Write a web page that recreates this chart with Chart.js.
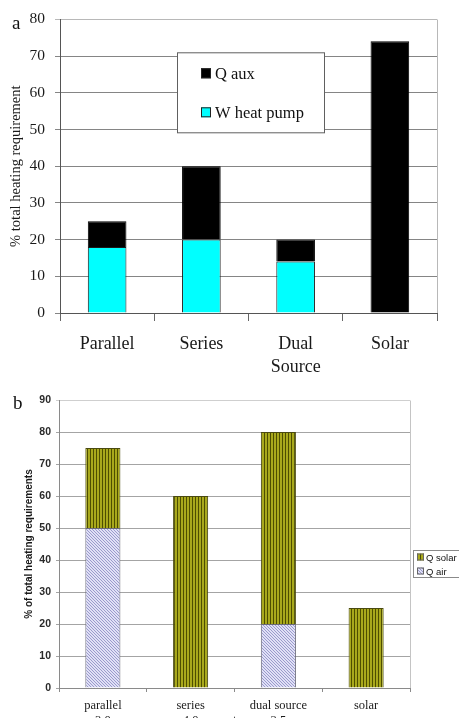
<!DOCTYPE html>
<html>
<head>
<meta charset="utf-8">
<script src="https://cdn.jsdelivr.net/npm/chart.js@4/dist/chart.umd.min.js"></script>
<style>
  html, body { margin: 0; padding: 0; background: #fff; overflow: hidden; width: 459px; height: 718px; }
  #panelA { position: absolute; left: 0; top: 0; width: 459px; height: 380px; }
  #panelB { position: absolute; left: 0; top: 380px; width: 459px; height: 360px; }
</style>
</head>
<body>
<div id="panelA"><canvas id="chartA"></canvas></div>
<div id="panelB"><canvas id="chartB"></canvas></div>
<script>
// Panel a: share of total heating requirement per system layout
const categoriesA = ['Parallel', 'Series', ['Dual', 'Source'], 'Solar'];
const wHeatPump = [18, 20, 14, 0];
const qAux = [7, 20, 6, 74];
const yRangeA = [0, 80, 10];

// Panel b: heat sources per system, with COP under each label
const categoriesB = [['parallel', '3.0'], ['series', '4.0'], ['dual source', '3.5'], 'solar'];
const qAir = [50, 0, 20, 0];
const qSolar = [25, 60, 60, 25];
const yRangeB = [0, 90, 10];

Chart.defaults.font.family = "'Liberation Serif', 'Times New Roman', serif";
Chart.defaults.color = '#1a1a1a';

function makePattern(w, h, paint) {
  const c = document.createElement('canvas');
  c.width = w; c.height = h;
  const g = c.getContext('2d');
  paint(g);
  return g.createPattern(c, 'repeat');
}

// vertical olive stripes
const solarFill = makePattern(3, 1, g => {
  g.fillStyle = '#a9a91c'; g.fillRect(0, 0, 3, 1);
  g.fillStyle = '#4e4e00'; g.fillRect(0, 0, 1, 1);
});

// fine diagonal lavender hatch
const airFill = makePattern(3, 3, g => {
  g.fillStyle = '#e0e0f6'; g.fillRect(0, 0, 3, 3);
  g.fillStyle = '#9a9acc';
  for (let i = 0; i < 3; i++) g.fillRect(i, i, 1, 1);
});

// Plot frame edge, panel letter and boxed legend
const panelDecor = {
  id: 'panelDecor',
  afterDraw(chart, args, o) {
    const { ctx, chartArea: a } = chart;
    ctx.save();
    ctx.strokeStyle = o.frameColor;
    ctx.lineWidth = 1;
    const rx = Math.round(a.right) + 0.5;
    ctx.beginPath();
    ctx.moveTo(rx, Math.round(a.top) + 0.5);
    ctx.lineTo(rx, Math.round(a.bottom));
    ctx.stroke();

    ctx.fillStyle = '#111';
    ctx.font = o.letterFont;
    ctx.textBaseline = 'middle';
    ctx.textAlign = 'left';
    ctx.fillText(o.letter, o.letterX, o.letterY);

    const L = o.legend;
    const bx = a.left + L.dx, by = a.top + L.dy;
    ctx.fillStyle = '#fff';
    ctx.fillRect(bx, by, L.w, L.h);
    ctx.strokeStyle = L.border;
    ctx.strokeRect(bx + 0.5, by + 0.5, L.w, L.h);

    const items = chart.data.datasets.slice().reverse();
    ctx.font = L.font;
    items.forEach((ds, i) => {
      const cy = by + L.firstY + i * L.rowGap;
      const sx = bx + L.boxX;
      ctx.fillStyle = ds.backgroundColor;
      ctx.fillRect(sx, cy - L.box / 2, L.box, L.box);
      ctx.strokeStyle = L.boxBorder;
      ctx.strokeRect(sx + 0.5, cy - L.box / 2 + 0.5, L.box - 1, L.box - 1);
      ctx.fillStyle = '#111';
      ctx.textBaseline = 'middle';
      ctx.fillText(ds.label, bx + L.textX, cy + 1);
    });
    ctx.restore();
  }
};

const edgeWidth = c => (c.raw ? 1 : 0);

new Chart(document.getElementById('chartA'), {
  type: 'bar',
  data: {
    labels: categoriesA,
    datasets: [
      { label: 'W heat pump', data: wHeatPump, backgroundColor: '#00ffff', borderColor: '#1a1a1a', borderWidth: edgeWidth, barPercentage: 0.41, categoryPercentage: 1 },
      { label: 'Q aux', data: qAux, backgroundColor: '#000000', borderColor: '#000000', borderWidth: edgeWidth, barPercentage: 0.41, categoryPercentage: 1 }
    ]
  },
  options: {
    responsive: true,
    maintainAspectRatio: false,
    animation: false,
    layout: { padding: { top: 16, right: 22, left: 0, bottom: 0 } },
    plugins: {
      legend: { display: false },
      tooltip: { enabled: false },
      panelDecor: {
        frameColor: '#b8b8b8',
        letter: 'a', letterX: 12, letterY: 24, letterFont: "19px 'Liberation Serif', serif",
        legend: { dx: 117, dy: 33, w: 147, h: 80, border: '#606060', boxX: 24, textX: 38, box: 10, firstY: 21, rowGap: 39, boxBorder: '#222', font: "16.5px 'Liberation Serif', serif" }
      }
    },
    scales: {
      x: {
        stacked: true,
        grid: { drawOnChartArea: false, offset: true, color: '#666', tickLength: 8 },
        border: { color: '#555' },
        ticks: { font: { size: 18, lineHeight: 1.28 }, padding: 12, color: '#1a1a1a', maxRotation: 0 },
        afterFit(s) { s.height = 67; }
      },
      y: {
        stacked: true,
        min: yRangeA[0], max: yRangeA[1],
        ticks: { stepSize: yRangeA[2], font: { size: 15.5 }, padding: 10, color: '#1a1a1a' },
        grid: { color: c => (c.tick && c.tick.value === yRangeA[1] ? '#b8b8b8' : '#858585'), tickLength: 5 },
        border: { color: '#555' },
        title: { display: true, text: '% total heating requirement', font: { size: 14.5 }, padding: { top: 7.3, bottom: 0 }, color: '#1a1a1a' },
        afterFit(s) { s.width = 60; }
      }
    }
  },
  plugins: [panelDecor]
});

new Chart(document.getElementById('chartB'), {
  type: 'bar',
  data: {
    labels: categoriesB,
    datasets: [
      { label: 'Q air', data: qAir, backgroundColor: airFill, borderColor: '#6a6a7a', borderWidth: edgeWidth, barPercentage: 0.4, categoryPercentage: 1 },
      { label: 'Q solar', data: qSolar, backgroundColor: solarFill, borderColor: '#4a4a10', borderWidth: edgeWidth, barPercentage: 0.4, categoryPercentage: 1 }
    ]
  },
  options: {
    responsive: true,
    maintainAspectRatio: false,
    animation: false,
    layout: { padding: { top: 20, right: 49, left: 0, bottom: 0 } },
    plugins: {
      legend: { display: false },
      tooltip: { enabled: false },
      panelDecor: {
        frameColor: '#c4c4c4',
        letter: 'b', letterX: 13, letterY: 24, letterFont: "19px 'Liberation Serif', serif",
        legend: { dx: 354, dy: 150, w: 60, h: 27, border: '#8a8a8a', boxX: 4, textX: 13, box: 7, firstY: 7, rowGap: 14, boxBorder: '#666', font: "9.5px 'Liberation Sans', Arial, sans-serif" }
      }
    },
    scales: {
      x: {
        stacked: true,
        grid: { drawOnChartArea: false, offset: true, color: '#8a8a8a', tickLength: 4 },
        border: { color: '#8a8a8a' },
        ticks: { font: { size: 12.5, lineHeight: 1.2 }, padding: 6, color: '#1a1a1a', maxRotation: 0 },
        title: { display: true, text: 'system', font: { size: 12.5 }, padding: { top: 0, bottom: 12 }, color: '#1a1a1a' },
        afterFit(s) { s.height = 52; }
      },
      y: {
        stacked: true,
        min: yRangeB[0], max: yRangeB[1],
        ticks: { stepSize: yRangeB[2], font: { family: "'Liberation Sans', Arial, sans-serif", size: 10.5, weight: 'bold' }, padding: 5, color: '#2a2a2a' },
        grid: { color: c => (c.tick && c.tick.value === yRangeB[1] ? '#cfcfcf' : '#a4a4a4'), tickLength: 3 },
        border: { color: '#8a8a8a' },
        title: { display: true, text: '% of total heating requirements', font: { family: "'Liberation Sans', Arial, sans-serif", size: 10, weight: 'bold' }, padding: { top: 23.5, bottom: 0 }, color: '#1a1a1a' },
        afterFit(s) { s.width = 59; }
      }
    }
  },
  plugins: [panelDecor]
});
</script>
</body>
</html>
